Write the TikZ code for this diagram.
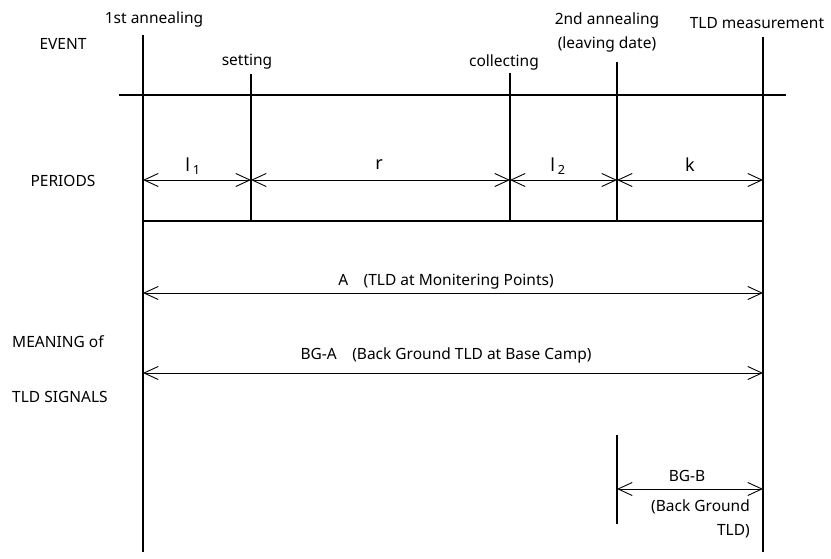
\documentclass[tikz,border=0pt]{standalone}
\usepackage{fontspec}
\setmainfont{Noto Sans}
\usetikzlibrary{arrows.meta,positioning}

\begin{document}
\begin{tikzpicture}[x=1pt,y=-1pt,font=\fontsize{15.5}{24}\selectfont,
  evt/.style={line width=1.1pt},
  dim/.style={{Straight Barb[length=5mm,width=4.6mm]}-{Straight Barb[length=5mm,width=4.6mm]}, line width=0.9pt},
  rowlbl/.style={anchor=west, inner sep=0pt},
  lbl/.style={inner sep=1pt},
  per/.style={inner sep=1pt, font=\fontsize{18}{20}\selectfont}
]
\useasboundingbox (0,0) rectangle (831,559);
% event lines
\coordinate (a1t) at (143,35);  \coordinate (a1b) at (143,552);
\coordinate (st)  at (251,74);  \coordinate (sb)  at (251,221);
\coordinate (ct)  at (510,73);  \coordinate (cb)  at (510,221);
\coordinate (a2t) at (617,62);  \coordinate (a2b) at (617,222);
\coordinate (mt)  at (763,37);  \coordinate (mb)  at (763,552);
\draw[evt] (a1t) -- (a1b);
\draw[evt] (st) -- (sb);
\draw[evt] (ct) -- (cb);
\draw[evt] (a2t) -- (a2b);
\draw[evt] (mt) -- (mb);
% time axis and lower border
\coordinate (axl) at (119,95); \coordinate (axr) at (786,95);
\draw[evt] (axl) -- (axr);
\draw[evt] (a1t |- sb) -- (mt |- sb);
% event names
\node[lbl] (n1) at (154,19) {1st annealing};
\node[lbl] (ns) at (247,62) {setting};
\node[lbl] (nc) at (504,62) {collecting};
\node[lbl, align=center] (n2) at (607,32) {2nd annealing\\(leaving date)};
\node[lbl] (nm) at (757,23) {TLD measurement};
% row names
\node[lbl] (ev) at (63,44) {EVENT};
\node[lbl] (pe) at (63,181) {PERIODS};
\node[rowlbl] (me) at (12,342) {MEANING of};
\node[rowlbl] (ts) at (12,397) {TLD SIGNALS};
% periods
\coordinate (yP) at (0,180);
\draw[dim] (a1t |- yP) -- (st |- yP);
\draw[dim] (st |- yP) -- (ct |- yP);
\draw[dim] (ct |- yP) -- (a2t |- yP);
\draw[dim] (a2t |- yP) -- (mt |- yP);
\node[per] (pl1) at (193,166) {l\,\textsubscript{1}};
\node[per] (pr)  at (379,165) {r};
\node[per] (pl2) at (558,166) {l\,\textsubscript{2}};
\node[per] (pk)  at (690,165) {k};
% signals
\coordinate (yA) at (0,293); \coordinate (yG) at (0,373);
\draw[dim] (a1t |- yA) -- (mt |- yA);
\node[lbl] (sa) at (446,282) {A\quad(TLD at Monitering Points)};
\draw[dim] (a1t |- yG) -- (mt |- yG);
\node[lbl] (sg) at (446,355) {BG-A\quad(Back Ground TLD at Base Camp)};
% back ground B
\coordinate (bt) at (617,435); \coordinate (bb) at (617,524);
\draw[evt] (bt) -- (bb);
\coordinate (yB) at (0,489);
\draw[dim] (bt |- yB) -- (mt |- yB);
\node[lbl] (sb1) at (687,476) {BG-B};
\node[lbl, align=right, anchor=north east] (sb2) at (751,499) {(Back Ground\\TLD)};
\end{tikzpicture}
\end{document}
